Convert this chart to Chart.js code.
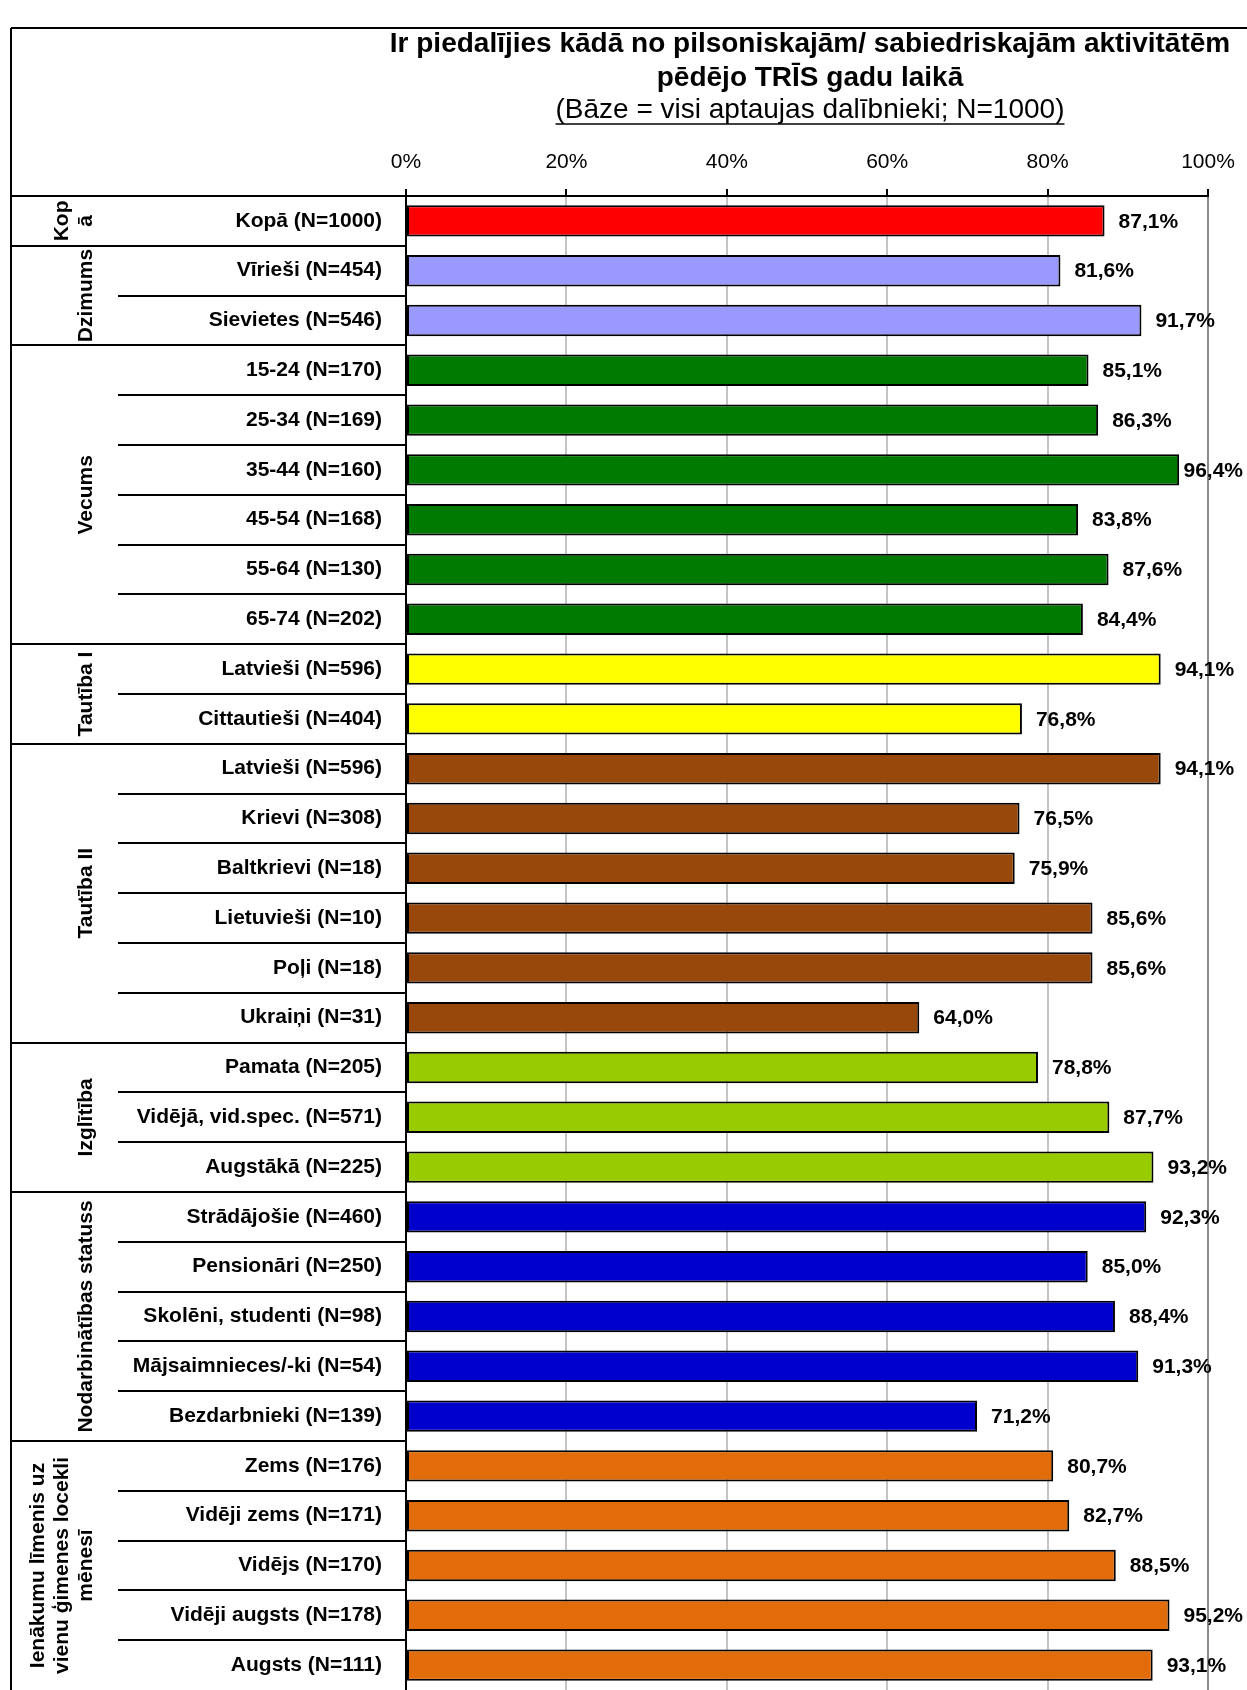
<!DOCTYPE html>
<html lang="lv">
<head>
<meta charset="utf-8">
<title>Pilsoniskās aktivitātes</title>
<script src="https://cdn.jsdelivr.net/npm/chart.js@4.4.1/dist/chart.umd.min.js"></script>
<style>
  html, body { margin:0; padding:0; background:#fff; }
  #wrap { position:relative; width:1247px; height:1690px; }
</style>
</head>
<body>
<div id="wrap"><canvas id="chart"></canvas></div>
<script>
const FONT = '"Liberation Sans", Arial, Helvetica, sans-serif';

// ── Data ─────────────────────────────────────────────────────
const titleLines = ['Ir piedalījies kādā no pilsoniskajām/ sabiedriskajām aktivitātēm', 'pēdējo TRĪS gadu laikā'];
const subtitle   = '(Bāze = visi aptaujas dalībnieki; N=1000)';

const categories = [
  'Kopā (N=1000)',
  'Vīrieši (N=454)', 'Sievietes (N=546)',
  '15-24 (N=170)', '25-34 (N=169)', '35-44 (N=160)', '45-54 (N=168)', '55-64 (N=130)', '65-74 (N=202)',
  'Latvieši (N=596)', 'Cittautieši (N=404)',
  'Latvieši (N=596)', 'Krievi (N=308)', 'Baltkrievi (N=18)', 'Lietuvieši (N=10)', 'Poļi (N=18)', 'Ukraiņi (N=31)',
  'Pamata (N=205)', 'Vidējā, vid.spec. (N=571)', 'Augstākā (N=225)',
  'Strādājošie (N=460)', 'Pensionāri (N=250)', 'Skolēni, studenti (N=98)', 'Mājsaimnieces/-ki (N=54)', 'Bezdarbnieki (N=139)',
  'Zems (N=176)', 'Vidēji zems (N=171)', 'Vidējs (N=170)', 'Vidēji augsts (N=178)', 'Augsts (N=111)'
];
const values = [
  87.1,
  81.6, 91.7,
  85.1, 86.3, 96.4, 83.8, 87.6, 84.4,
  94.1, 76.8,
  94.1, 76.5, 75.9, 85.6, 85.6, 64.0,
  78.8, 87.7, 93.2,
  92.3, 85.0, 88.4, 91.3, 71.2,
  80.7, 82.7, 88.5, 95.2, 93.1
];
const groupNames = [
  ['Kop', 'ā'], ['Dzimums'], ['Vecums'], ['Tautība I'], ['Tautība II'], ['Izglītība'],
  ['Nodarbinātības statuss'], ['Ienākumu līmenis uz', 'vienu ģimenes locekli', 'mēnesī']
];
const groupSizes  = [1, 2, 6, 2, 6, 3, 5, 5];
const groupColors = ['#ff0000', '#9999ff', '#007a00', '#ffff00', '#97480a', '#99cc00', '#0000cc', '#e36c0a'];
const xTicks = [0, 20, 40, 60, 80, 100];

const barColors = groupSizes.flatMap((n, g) => Array(n).fill(groupColors[g]));
const groupStarts = groupSizes.map((n, g) => groupSizes.slice(0, g).reduce((s, v) => s + v, 0));
const fmtPct = v => v.toFixed(1).replace('.', ',') + '%';

// ── Table / labels plugin ───────────────────────────────────
function line(ctx, x1, y1, x2, y2) {
  ctx.beginPath(); ctx.moveTo(x1, y1); ctx.lineTo(x2, y2); ctx.stroke();
}

const tablePlugin = {
  id: 'tableLayout',
  afterDraw(chart) {
    const { ctx, chartArea: a, scales: { y } } = chart;
    const W = chart.width, H = chart.height;
    ctx.save();
    ctx.strokeStyle = '#000';
    ctx.lineWidth = 2;

    // frame + header line
    line(ctx, 11, 28, W, 28);
    line(ctx, 11, 28, 11, H);
    line(ctx, 11, a.top, a.left, a.top);

    // row / group separators
    for (let i = 1; i < categories.length; i++) {
      const yy = Math.round((y.getPixelForValue(i - 1) + y.getPixelForValue(i)) / 2);
      line(ctx, groupStarts.includes(i) ? 11 : 118, yy, a.left, yy);
    }

    // group names (rotated)
    ctx.fillStyle = '#000';
    ctx.font = `bold 21px ${FONT}`;
    ctx.textAlign = 'center';
    ctx.textBaseline = 'middle';
    groupNames.forEach((lines, g) => {
      const first = groupStarts[g], last = first + groupSizes[g] - 1;
      const cy = (y.getPixelForValue(first) + y.getPixelForValue(last)) / 2;
      lines.forEach((t, k) => {
        const cx = 86 - (lines.length - 1 - k) * 24;
        ctx.save();
        ctx.translate(cx, cy);
        ctx.rotate(-Math.PI / 2);
        ctx.fillText(t, 0, 0);
        ctx.restore();
      });
    });

    // value labels
    ctx.textAlign = 'left';
    chart.getDatasetMeta(0).data.forEach((bar, i) => {
      const txt = fmtPct(values[i]);
      const w = ctx.measureText(txt).width;
      const x = Math.min(bar.x + 14, W - 4 - w);
      ctx.fillText(txt, x, bar.y + 1);
    });

    // title
    const cx = (a.left + a.right) / 2 + 3;
    ctx.textAlign = 'center';
    ctx.font = `bold 28px ${FONT}`;
    ctx.fillText(titleLines[0], cx, 44);
    ctx.fillText(titleLines[1], cx, 78);
    ctx.font = `28px ${FONT}`;
    ctx.fillText(subtitle, cx, 110);
    const sw = ctx.measureText(subtitle).width;
    ctx.lineWidth = 1.5;
    line(ctx, cx - sw / 2, 124, cx + sw / 2, 124);
    ctx.restore();
  }
};

// ── Chart ───────────────────────────────────────────────────
new Chart(document.getElementById('chart'), {
  type: 'bar',
  data: {
    labels: categories,
    datasets: [{
      data: values,
      backgroundColor: barColors,
      borderColor: '#000',
      borderWidth: 2,
      borderSkipped: false,
      barPercentage: 0.63,
      categoryPercentage: 1
    }]
  },
  options: {
    indexAxis: 'y',
    responsive: true,
    maintainAspectRatio: false,
    animation: false,
    layout: { padding: { top: 130, right: 39, left: 0, bottom: 0 } },
    plugins: { legend: { display: false }, tooltip: { enabled: false } },
    scales: {
      x: {
        position: 'top', min: 0, max: 100,
        afterBuildTicks: s => { s.ticks = xTicks.map(v => ({ value: v })); },
        ticks: { callback: v => v + '%', color: '#000', padding: 14, font: { family: FONT, size: 21 } },
        grid: {
          color: c => c.tick && c.tick.value === 100 ? '#8a8a8a' : '#c4c4c4',
          lineWidth: 2, tickColor: '#000', tickWidth: 2, tickLength: 7
        },
        border: { display: true, color: '#000', width: 2 },
        afterFit: s => { s.height = 66; s.paddingLeft = 0; s.paddingRight = 0; }
      },
      y: {
        position: 'left',
        grid: { display: false },
        border: { display: true, color: '#000', width: 2 },
        ticks: { color: '#000', padding: 16, autoSkip: false, font: { family: FONT, size: 21, weight: 'bold' } },
        afterFit: s => { s.width = 406; s.paddingTop = 0; s.paddingBottom = 0; }
      }
    }
  },
  plugins: [tablePlugin]
});
</script>
</body>
</html>
